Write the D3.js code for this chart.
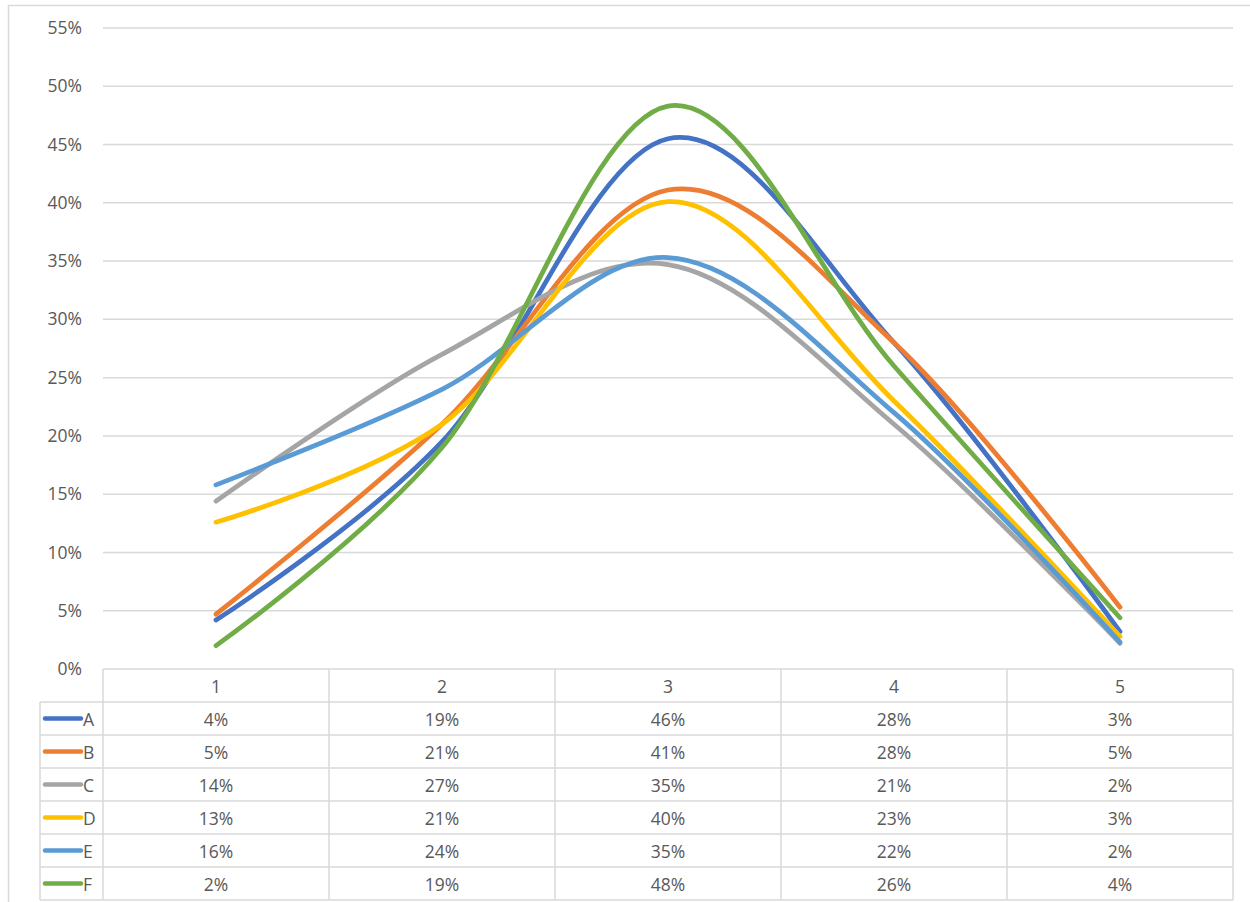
<!DOCTYPE html>
<html><head><meta charset="utf-8">
<script src="https://cdn.jsdelivr.net/npm/d3@7/dist/d3.min.js"></script>
<style>body{margin:0;background:#fff}svg{display:block}</style>
</head><body>
<script>
const categories = ["1","2","3","4","5"];
const seriesNames = ["A","B","C","D","E","F"];
const valuesA = [0.042, 0.195, 0.455, 0.28, 0.032];
const valuesB = [0.047, 0.21, 0.411, 0.28, 0.053];
const valuesC = [0.144, 0.27, 0.347, 0.21, 0.022];
const valuesD = [0.126, 0.21, 0.401, 0.23, 0.028];
const valuesE = [0.158, 0.24, 0.353, 0.22, 0.023];
const valuesF = [0.020, 0.19, 0.483, 0.26, 0.044];
const tableA = ["4%","19%","46%","28%","3%"];
const tableB = ["5%","21%","41%","28%","5%"];
const tableC = ["14%","27%","35%","21%","2%"];
const tableD = ["13%","21%","40%","23%","3%"];
const tableE = ["16%","24%","35%","22%","2%"];
const tableF = ["2%","19%","48%","26%","4%"];
const yTicks = [0,0.05,0.10,0.15,0.20,0.25,0.30,0.35,0.40,0.45,0.50,0.55];
const colors = ["#4472C4","#ED7D31","#A5A5A5","#FFC000","#5B9BD5","#70AD47"];

(function(){
const series = seriesNames.map((n,i)=>({name:n, values:[valuesA,valuesB,valuesC,valuesD,valuesE,valuesF][i], table:[tableA,tableB,tableC,tableD,tableE,tableF][i], color:colors[i]}));

const W=1250,H=902;
const svg=d3.select("body").append("svg").attr("width",W).attr("height",H);
const font="'Open Sans', 'Liberation Sans', sans-serif";
const fs=17.5;
const txt="#595959", grid="#D9D9D9";

svg.append("rect").attr("x",8.5).attr("y",5.5).attr("width",1260).attr("height",920).attr("fill","none").attr("stroke","#D9D9D9").attr("stroke-width",1.5);

const pLeft=103,pRight=1233,pTop=28,pBottom=669;
const x=d3.scaleBand().domain(categories).range([pLeft,pRight]);
const y=d3.scaleLinear().domain([0,0.55]).range([pBottom,pTop]);

svg.append("g").selectAll("line").data(yTicks.filter(t=>t>0)).join("line")
 .attr("x1",pLeft).attr("x2",pRight).attr("y1",d=>y(d)).attr("y2",d=>y(d))
 .attr("stroke",grid).attr("stroke-width",1.5);

svg.append("g").selectAll("text").data(yTicks).join("text")
 .attr("x",82).attr("y",d=>y(d)).attr("dy","0.35em").attr("text-anchor","end")
 .attr("font-family",font).attr("font-size",fs).attr("fill",txt)
 .text(d=>d3.format(".0%")(d));

const line=d3.line().x((d,i)=>x(categories[i])+x.bandwidth()/2).y(d=>y(d)).curve(d3.curveCatmullRom.alpha(0));
svg.append("g").selectAll("path").data(series).join("path")
 .attr("d",d=>line(d.values)).attr("fill","none").attr("stroke",d=>d.color)
 .attr("stroke-width",4.75).attr("stroke-linecap","round").attr("stroke-linejoin","round");

const rowH=33, headTop=pBottom, legLeft=40;
const tg=svg.append("g");
const nRows=series.length;
const tableBottom=headTop+rowH*(nRows+1);
tg.append("line").attr("x1",pLeft).attr("x2",pRight).attr("y1",headTop).attr("y2",headTop).attr("stroke",grid).attr("stroke-width",1.5);
for(let r=1;r<=nRows+1;r++){
  tg.append("line").attr("x1",legLeft).attr("x2",pRight).attr("y1",headTop+rowH*r).attr("y2",headTop+rowH*r).attr("stroke",grid).attr("stroke-width",1.5);
}
categories.forEach(c=>{
  tg.append("line").attr("x1",x(c)).attr("x2",x(c)).attr("y1",headTop).attr("y2",tableBottom).attr("stroke",grid).attr("stroke-width",1.5);
});
tg.append("line").attr("x1",pRight).attr("x2",pRight).attr("y1",headTop).attr("y2",tableBottom).attr("stroke",grid).attr("stroke-width",1.5);
tg.append("line").attr("x1",legLeft).attr("x2",legLeft).attr("y1",headTop+rowH).attr("y2",tableBottom).attr("stroke",grid).attr("stroke-width",1.5);

tg.selectAll("text.h").data(categories).join("text").attr("class","h")
 .attr("x",d=>x(d)+x.bandwidth()/2).attr("y",headTop+rowH/2+1).attr("dy","0.35em").attr("text-anchor","middle")
 .attr("font-family",font).attr("font-size",fs).attr("fill",txt).text(d=>d);

series.forEach((s,r)=>{
  const cy=headTop+rowH*(r+1)+rowH/2;
  tg.append("line").attr("x1",45).attr("x2",81).attr("y1",cy).attr("y2",cy).attr("stroke",s.color).attr("stroke-width",4.5).attr("stroke-linecap","round");
  tg.append("text").attr("x",83).attr("y",cy+1).attr("dy","0.35em").attr("font-family",font).attr("font-size",fs).attr("fill",txt).text(s.name);
  s.table.forEach((t,i)=>{
    tg.append("text").attr("x",x(categories[i])+x.bandwidth()/2).attr("y",cy+1).attr("dy","0.35em").attr("text-anchor","middle")
      .attr("font-family",font).attr("font-size",fs).attr("fill",txt).text(t);
  });
});
})();
</script>
</body></html>
